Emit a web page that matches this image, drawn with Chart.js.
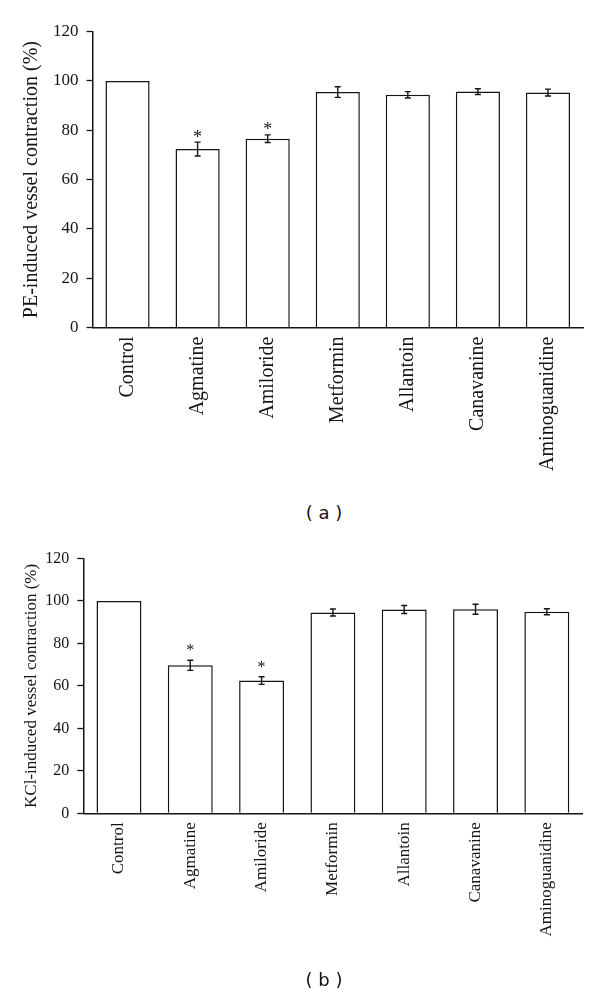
<!DOCTYPE html>
<html>
<head>
<meta charset="utf-8">
<script src="https://cdn.jsdelivr.net/npm/chart.js@4.4.1/dist/chart.umd.min.js"></script>
<style>
  html, body { margin:0; padding:0; background:#fff; }
  body { width:600px; height:994px; position:relative; overflow:hidden; }
  canvas { position:absolute; left:0; }
  .panel-lbl { position:absolute; width:600px; left:24px; text-align:center; font-family:"DejaVu Sans", sans-serif; font-size:18px; color:#111; }
</style>
</head>
<body>
<canvas id="pe-chart" width="600" height="500" style="top:0"></canvas>
<div class="panel-lbl" style="top:502px">( a )</div>
<canvas id="kcl-chart" width="600" height="494" style="top:500px"></canvas>
<div class="panel-lbl" style="top:969px">( b )</div>

<script>
const categories = ['Control','Agmatine','Amiloride','Metformin','Allantoin','Canavanine','Aminoguanidine'];

// (a) PE-induced
const peValues = [100, 72.4, 76.6, 95.5, 94.4, 95.7, 95.3];
const peErrors = [0, 2.8, 1.55, 2.15, 1.3, 1.15, 1.4];
const peStars  = ['', '*', '*', '', '', '', ''];

// (b) KCl-induced
const kclValues = [100, 69.7, 62.5, 94.6, 96.0, 96.1, 94.9];
const kclErrors = [0, 2.4, 1.8, 1.65, 1.9, 2.35, 1.4];
const kclStars  = ['', '*', '*', '', '', '', ''];

const yMin = 0, yMax = 120, yStep = 20;

const INK = '#151515';
const SERIF = '"Liberation Serif", "Times New Roman", serif';

// error bars + significance stars, drawn through the y scale
const errorBarPlugin = {
  id: 'errbars',
  afterDatasetsDraw(chart, args, opts) {
    const {ctx} = chart;
    const ys = chart.scales.y;
    const meta = chart.getDatasetMeta(0);
    ctx.save();
    ctx.strokeStyle = INK;
    ctx.lineWidth = 1.4;
    meta.data.forEach((bar, i) => {
      const v = opts.values[i], e = opts.errors[i];
      const x = bar.x;
      const yTop = ys.getPixelForValue(v + e);
      const yBot = ys.getPixelForValue(v - e);
      if (e > 0) {
        ctx.beginPath();
        ctx.moveTo(x, yTop); ctx.lineTo(x, yBot);
        ctx.moveTo(x - 3, yTop); ctx.lineTo(x + 3, yTop);
        ctx.moveTo(x - 3, yBot); ctx.lineTo(x + 3, yBot);
        ctx.stroke();
      }
      if (opts.stars[i]) {
        const cy = yTop - opts.starGap;
        ctx.fillStyle = INK;
        ctx.font = `${opts.starSize}px ${SERIF}`;
        ctx.textAlign = 'center';
        ctx.textBaseline = 'alphabetic';
        ctx.fillText(opts.stars[i], x, cy + opts.starSize * 0.49);
      }
    });
    ctx.restore();
  }
};

function makeChart(id, cfg) {
  const ctx = document.getElementById(id).getContext('2d');
  return new Chart(ctx, {
    type: 'bar',
    data: {
      labels: categories,
      datasets: [{
        data: cfg.values,
        backgroundColor: '#fff',
        borderColor: INK,
        borderWidth: 1.5,
        barPercentage: 0.63,
        categoryPercentage: 1
      }]
    },
    options: {
      responsive: false,
      devicePixelRatio: 1,
      animation: false,
      layout: {padding: {top: cfg.top, right: cfg.right, left: 0, bottom: 0}},
      plugins: {
        legend: {display: false},
        tooltip: {enabled: false},
        errbars: {values: cfg.values, errors: cfg.errors, stars: cfg.stars, starGap: cfg.starGap, starSize: cfg.starSize}
      },
      scales: {
        x: {
          grid: {display: false, drawTicks: false},
          border: {display: true, color: INK, width: 1.5},
          ticks: {color: INK, font: {family: SERIF, size: cfg.catFont}, minRotation: 90, maxRotation: 90, padding: 9, autoSkip: false},
          afterFit: s => { s.height = cfg.xHeight; }
        },
        y: {
          min: yMin, max: yMax,
          grid: {drawOnChartArea: false, drawTicks: true, tickLength: 6, tickColor: INK, tickWidth: 1.3},
          border: {display: true, color: INK, width: 1.5},
          ticks: {stepSize: yStep, color: INK, font: {family: SERIF, size: cfg.tickFont}, padding: 8},
          title: {display: true, text: cfg.title, color: INK, font: {family: SERIF, size: cfg.titleFont}, padding: {top: cfg.titlePad, bottom: 0}},
          afterFit: s => { s.width = cfg.yWidth; }
        }
      }
    },
    plugins: [errorBarPlugin]
  });
}

makeChart('pe-chart', {
  values: peValues, errors: peErrors, stars: peStars,
  title: 'PE-induced vessel contraction (%)',
  top: 31.7, right: 17, yWidth: 92.5, xHeight: 172.5,
  catFont: 20, tickFont: 17, titleFont: 20, titlePad: 20,
  starGap: 8.3, starSize: 18
});

makeChart('kcl-chart', {
  values: kclValues, errors: kclErrors, stars: kclStars,
  title: 'KCl-induced vessel contraction (%)',
  top: 58.5, right: 17.5, yWidth: 83.3, xHeight: 180.7,
  catFont: 17, tickFont: 16, titleFont: 17, titlePad: 21.5,
  starGap: 13, starSize: 16
});
</script>
</body>
</html>
